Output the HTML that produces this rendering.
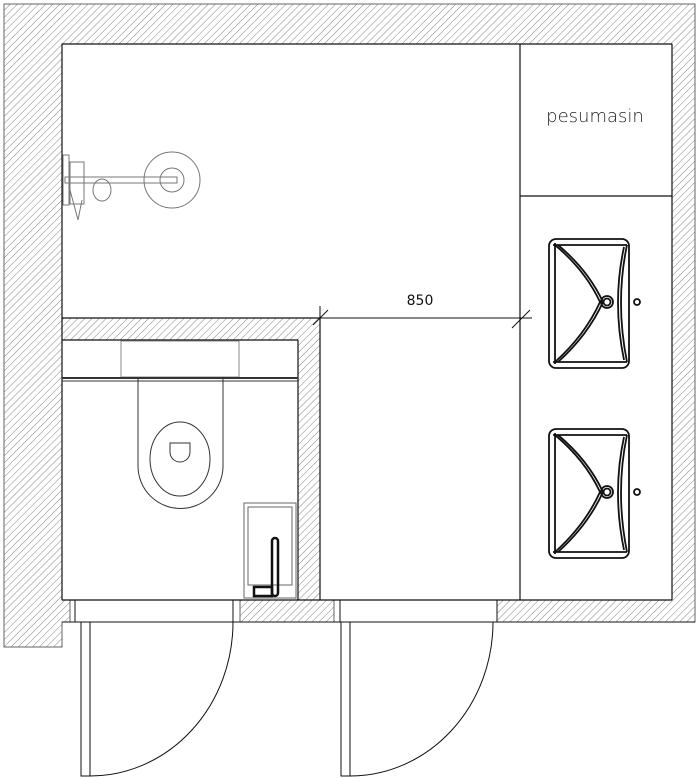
<!DOCTYPE html>
<html><head><meta charset="utf-8"><style>
html,body{margin:0;padding:0;background:#fff;width:700px;height:778px;overflow:hidden}
svg{display:block}
</style></head><body>
<svg width="700" height="778" viewBox="0 0 700 778" xmlns="http://www.w3.org/2000/svg">
<defs>
<pattern id="h" patternUnits="userSpaceOnUse" width="5" height="5" patternTransform="rotate(45)">
<line x1="0" y1="0" x2="0" y2="5" stroke="#777" stroke-width="0.9"/>
</pattern>
</defs>
<g fill="url(#h)" stroke="#666" stroke-width="1">
<path d="M4,4 H695 V622 H497 V600 H672 V44 H62 V600 H70 V622 H62 V647 H4 Z"/>
<rect x="240" y="600" width="94" height="22"/>
<path d="M62,318 H320 V600 H298 V340 H62 Z"/>
</g>
<g fill="none" stroke="#111" stroke-width="1.2">
<line x1="62" y1="44" x2="672" y2="44"/>
<line x1="62" y1="44" x2="62" y2="600"/>
<line x1="672" y1="44" x2="672" y2="600"/>
<line x1="62" y1="600" x2="672" y2="600"/>
<line x1="62" y1="622" x2="695" y2="622" stroke-width="1"/>
<line x1="520" y1="44" x2="520" y2="600"/>
<line x1="520" y1="196" x2="672" y2="196"/>
<line x1="62" y1="318" x2="320" y2="318"/>
<line x1="320" y1="318" x2="320" y2="600"/>
<line x1="298" y1="340" x2="298" y2="600"/>
<line x1="62" y1="340" x2="298" y2="340"/>
</g>
<text x="595" y="122" font-family="DejaVu Sans, sans-serif" font-weight="200" font-size="18" text-anchor="middle" fill="#222">pesumasin</text>
<g stroke="#111" stroke-width="1">
<line x1="310" y1="318" x2="532" y2="318"/>
<line x1="320" y1="306" x2="320" y2="330"/>
<line x1="313" y1="325" x2="328" y2="310"/>
<line x1="512" y1="328" x2="530" y2="310"/>
</g>
<text x="420" y="305" font-family="DejaVu Sans, sans-serif" font-size="14" text-anchor="middle" fill="#111">850</text>
<g fill="none" stroke="#777" stroke-width="1">
<circle cx="172" cy="180" r="28"/>
<circle cx="172" cy="180" r="12"/>
<rect x="65" y="177" width="112" height="6"/>
<rect x="63" y="155" width="6" height="50"/>
<rect x="70" y="162" width="14" height="42"/>
<path d="M70,190 L78,220 L82,200"/>
<ellipse cx="102" cy="190" rx="9" ry="11"/>
</g>
<g fill="none" stroke="#333" stroke-width="1">
<rect x="121" y="341" width="118" height="36" stroke="#888"/>
<line x1="62" y1="378" x2="298" y2="378" stroke-width="2"/>
<line x1="62" y1="381" x2="298" y2="381"/>
<path d="M138,378 V466 A42.5,42.5 0 0 0 223,466 V378"/>
<ellipse cx="180" cy="459" rx="30" ry="37"/>
<path d="M170,443 H190 V452 A10,10 0 0 1 170,452 Z"/>
<rect x="244" y="503" width="52" height="95" stroke="#666"/>
<rect x="248" y="507" width="44" height="78" stroke="#666"/>
</g>
<rect x="272" y="538" width="6" height="58" rx="3" fill="none" stroke="#111" stroke-width="2.5"/>
<rect x="254" y="587" width="18" height="9" fill="none" stroke="#111" stroke-width="2.5"/>
<g fill="none" stroke="#111" stroke-width="1.8">
<g id="s1">
<rect x="549" y="239" width="80" height="129" rx="7"/>
<line x1="555" y1="243" x2="555" y2="364"/>
<line x1="553" y1="245" x2="627" y2="245"/>
<line x1="553" y1="362" x2="627" y2="362"/>
<path d="M555,245 Q585,270 600,302 Q585,335 555,362"/>
<path d="M558,245 Q588,270 603,302 Q588,335 558,362"/>
<path d="M627,245 Q615,302 627,362"/>
<path d="M624,247 Q612,302 624,360"/>
<circle cx="607" cy="302" r="6"/>
<circle cx="607" cy="302" r="3.5"/>
<circle cx="637" cy="302" r="3"/>
</g>
<use href="#s1" transform="translate(0,190)"/>
</g>
<g fill="none" stroke="#111" stroke-width="1">
<line x1="75" y1="600" x2="75" y2="622"/>
<line x1="233" y1="600" x2="233" y2="622"/>
<line x1="340" y1="600" x2="340" y2="622"/>
<line x1="497" y1="600" x2="497" y2="622"/>
<rect x="81" y="622" width="9" height="154"/>
<path d="M233,622 A143,154 0 0 1 90,776"/>
<rect x="341" y="622" width="9" height="154"/>
<path d="M493,622 A143,154 0 0 1 350,776"/>
</g>
</svg>
</body></html>
